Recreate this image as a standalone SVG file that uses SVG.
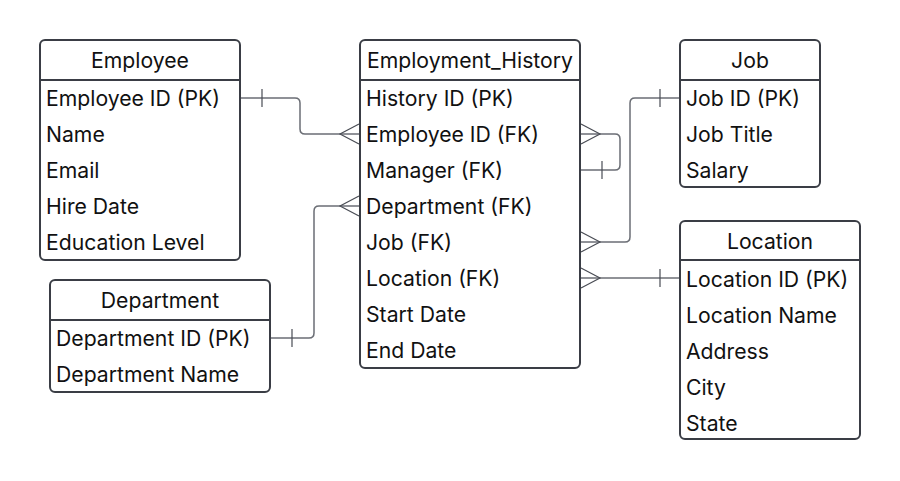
<svg xmlns="http://www.w3.org/2000/svg" width="900" height="481" viewBox="0 0 900 481">
<style>
.box{fill:#fff;stroke:#3a3d45;stroke-width:2}
.sep{stroke:#3a3d45;stroke-width:2}
text{font-family:Inter,"Noto Sans",sans-serif;font-size:21.2px;fill:#111}
.h{text-anchor:middle}
.c{fill:none;stroke:#6b6e75;stroke-width:1.5}
.m{fill:none;stroke:#4a4d55;stroke-width:1.2}
</style>
<rect width="900" height="481" fill="#fff"/>
<g id="connectors">
<path class="c" d="M241,98 H295 Q300,98 300,103 V129 Q300,134 305,134 H359"/>
<path class="m" d="M262,89 V107 M359,124 L340,134 L359,144"/>
<path class="c" d="M271,338 H309 Q314,338 314,333 V211 Q314,206 319,206 H359"/>
<path class="m" d="M292,329 V347 M359,196 L340,206 L359,216"/>
<path class="c" d="M581,134 H615 Q620,134 620,139 V165 Q620,170 615,170 H581"/>
<path class="m" d="M581,124 L600,134 L581,144 M602,161 V179"/>
<path class="c" d="M581,242 H625 Q630,242 630,237 V103 Q630,98 635,98 H679"/>
<path class="m" d="M581,232 L600,242 L581,252 M660,89 V107"/>
<path class="c" d="M581,278 H679"/>
<path class="m" d="M581,268 L600,278 L581,288 M660,269 V287"/>
</g>
<g id="employee">
<rect class="box" x="40" y="40" width="200" height="220" rx="5"/>
<line class="sep" x1="40" y1="80" x2="240" y2="80"/>
<text class="h" x="140" y="68">Employee</text>
<text x="46" y="106">Employee ID (PK)</text>
<text x="46" y="142">Name</text>
<text x="46" y="178">Email</text>
<text x="46" y="214">Hire Date</text>
<text x="46" y="250">Education Level</text>
</g>
<g id="employment_history">
<rect class="box" x="360" y="40" width="220" height="328" rx="5"/>
<line class="sep" x1="360" y1="80" x2="580" y2="80"/>
<text class="h" x="470" y="68">Employment_History</text>
<text x="366" y="106">History ID (PK)</text>
<text x="366" y="142">Employee ID (FK)</text>
<text x="366" y="178">Manager (FK)</text>
<text x="366" y="214">Department (FK)</text>
<text x="366" y="250">Job (FK)</text>
<text x="366" y="286">Location (FK)</text>
<text x="366" y="322">Start Date</text>
<text x="366" y="358">End Date</text>
</g>
<g id="job">
<rect class="box" x="680" y="40" width="140" height="147" rx="5"/>
<line class="sep" x1="680" y1="80" x2="820" y2="80"/>
<text class="h" x="750" y="68">Job</text>
<text x="686" y="106">Job ID (PK)</text>
<text x="686" y="142">Job Title</text>
<text x="686" y="178">Salary</text>
</g>
<g id="location">
<rect class="box" x="680" y="221" width="180" height="218" rx="5"/>
<line class="sep" x1="680" y1="260" x2="860" y2="260"/>
<text class="h" x="770" y="249">Location</text>
<text x="686" y="287">Location ID (PK)</text>
<text x="686" y="323">Location Name</text>
<text x="686" y="359">Address</text>
<text x="686" y="395">City</text>
<text x="686" y="431">State</text>
</g>
<g id="department">
<rect class="box" x="50" y="280" width="220" height="112" rx="5"/>
<line class="sep" x1="50" y1="320" x2="270" y2="320"/>
<text class="h" x="160" y="308">Department</text>
<text x="56" y="346">Department ID (PK)</text>
<text x="56" y="382">Department Name</text>
</g>
</svg>
